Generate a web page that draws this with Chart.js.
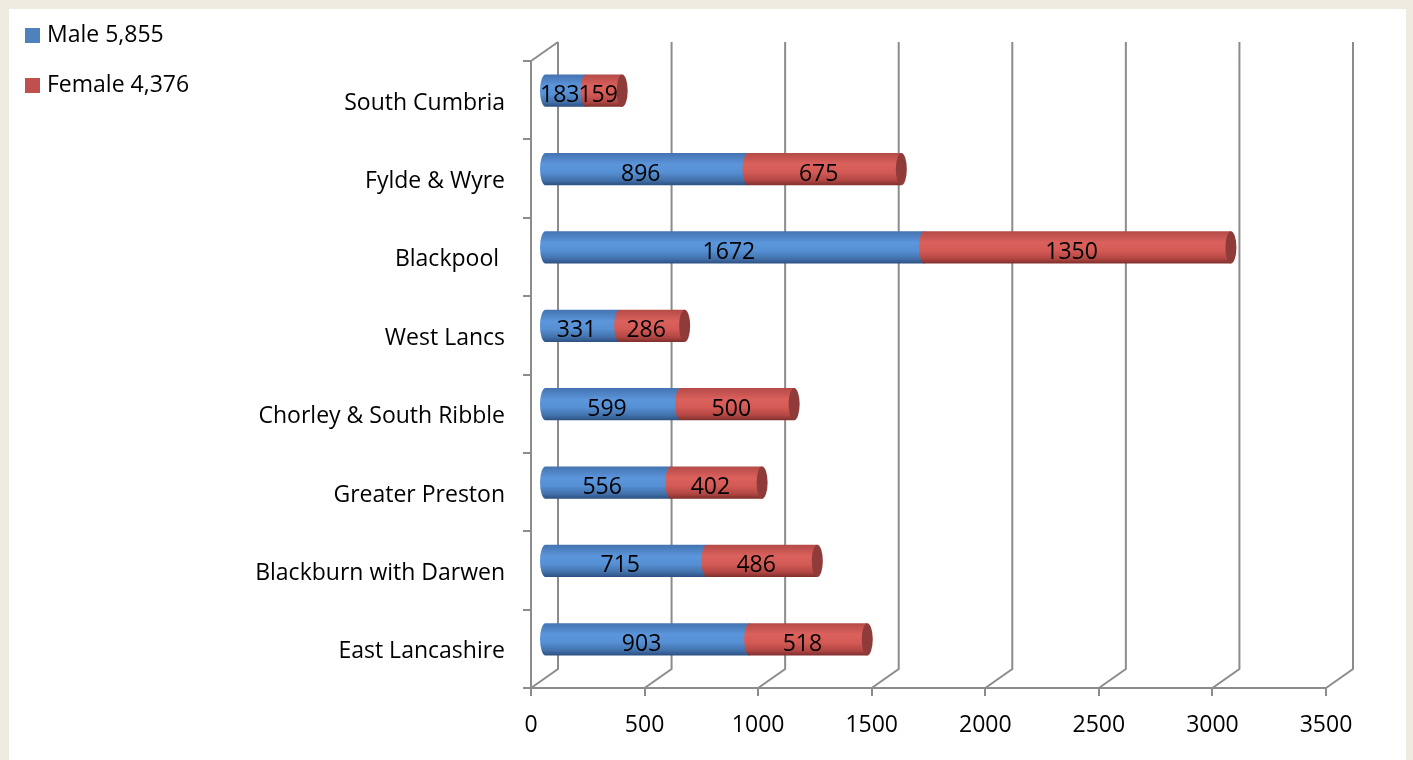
<!DOCTYPE html>
<html>
<head>
<meta charset="utf-8">
<script src="https://cdn.jsdelivr.net/npm/chart.js@4"></script>
<style>
    html, body { margin: 0; padding: 0; background: #EEEBE0; }
    #panel { position: absolute; left: 9px; top: 9px; width: 1397px; height: 751px; background: #fff; }
    #chart { position: absolute; left: 0; top: 0; }
</style>
</head>
<body>
<div id="panel"></div>
<canvas id="chart" width="1413" height="760"></canvas>
<script>
// Areas, top to bottom
const areas = ['South Cumbria', 'Fylde & Wyre', 'Blackpool ', 'West Lancs', 'Chorley & South Ribble',
               'Greater Preston', 'Blackburn with Darwen', 'East Lancashire'];
const male = [183, 896, 1672, 331, 599, 556, 715, 903];
const female = [159, 675, 1350, 286, 500, 402, 486, 518];
const xTicks = [0, 500, 1000, 1500, 2000, 2500, 3000, 3500];

const total = arr => arr.reduce((a, b) => a + b, 0).toLocaleString('en-GB');

// Depth of the fake 3D box (back wall offset)
const DX = 27, DY = -19;
const RX = 5.5; // half width of the cylinder end caps
const wallColor = '#8C8C8C';
const FONT = '23px "Open Sans", sans-serif';

// Gradient stops for each series, plus the colour of the end cap
const shading = [
    { flat: '#4F81BD', cap: '#3A6193',
      stops: [[0, '#4473B0'], [0.35, '#5B95DB'], [0.6, '#5690D4'], [0.85, '#4271AB'], [1, '#2D5082']] },
    { flat: '#C0504D', cap: '#8E3B39',
      stops: [[0, '#B44A47'], [0.35, '#DB615D'], [0.6, '#D45A56'], [0.85, '#B24643'], [1, '#7E2F2D']] }
];

Chart.defaults.font.family = '"Open Sans", sans-serif';
Chart.defaults.font.size = 23;
Chart.defaults.color = '#000';

// Back wall gridlines and floor diagonals
const walls = {
    id: 'walls',
    beforeDraw(chart) {
        const { ctx, chartArea: a, scales: { x } } = chart;
        ctx.save();
        ctx.strokeStyle = wallColor;
        ctx.lineWidth = 2;
        ctx.beginPath();
        x.ticks.forEach(t => {
            const px = x.getPixelForValue(t.value);
            ctx.moveTo(px, a.bottom);
            ctx.lineTo(px + DX, a.bottom + DY);
            ctx.lineTo(px + DX, a.top + DY);
        });
        ctx.moveTo(a.left, a.top);
        ctx.lineTo(a.left + DX, a.top + DY);
        ctx.stroke();
        ctx.restore();
    }
};

// Draws the bars as cylinders sitting half way into the box
const cylinders = {
    id: 'cylinders',
    beforeDatasetsDraw(chart) {
        const ctx = chart.ctx;
        const ox = DX / 2, oy = DY / 2;
        const last = chart.data.datasets.length - 1;
        const labels = [];

        chart.data.datasets.forEach((ds, di) => {
            const s = shading[di];
            chart.getDatasetMeta(di).data.forEach((bar, i) => {
                const { x, y, base, height } = bar.getProps(['x', 'y', 'base', 'height'], true);
                const x0 = base + ox, x1 = x + ox, yc = y + oy, ry = height / 2;

                const g = ctx.createLinearGradient(0, yc - ry, 0, yc + ry);
                s.stops.forEach(([p, c]) => g.addColorStop(p, c));

                ctx.save();
                ctx.fillStyle = g;
                ctx.beginPath();
                ctx.moveTo(x1, yc - ry);
                ctx.lineTo(x0, yc - ry);
                ctx.ellipse(x0, yc, RX, ry, 0, -Math.PI / 2, Math.PI / 2, true);
                ctx.lineTo(x1, yc + ry);
                ctx.closePath();
                ctx.fill();

                if (di === last) {
                    ctx.fillStyle = s.cap;
                    ctx.beginPath();
                    ctx.ellipse(x1, yc, RX, ry, 0, 0, Math.PI * 2);
                    ctx.fill();
                }
                ctx.restore();

                labels.push({ text: String(ds.data[i]), x: (x0 + x1) / 2 - 6, y: yc + 5 });
            });
        });

        // value labels on top of everything
        ctx.save();
        ctx.fillStyle = '#000';
        ctx.font = FONT;
        ctx.textAlign = 'center';
        ctx.textBaseline = 'middle';
        labels.forEach(l => ctx.fillText(l.text, l.x, l.y));
        ctx.restore();
        return false;
    }
};

// Legend in the top left corner
const cornerLegend = {
    id: 'cornerLegend',
    afterDraw(chart) {
        const ctx = chart.ctx;
        ctx.save();
        ctx.font = FONT;
        ctx.textAlign = 'left';
        ctx.textBaseline = 'middle';
        chart.data.datasets.forEach((ds, i) => {
            const y = 35 + i * 50;
            ctx.fillStyle = shading[i].flat;
            ctx.fillRect(25, y - 7, 15, 15);
            ctx.fillStyle = '#000';
            ctx.fillText(ds.label, 47, y);
        });
        ctx.restore();
    }
};

const ctx = document.getElementById('chart').getContext('2d');

new Chart(ctx, {
    type: 'bar',
    data: {
        labels: areas,
        datasets: [
            { label: 'Male ' + total(male), data: male, backgroundColor: shading[0].flat },
            { label: 'Female ' + total(female), data: female, backgroundColor: shading[1].flat }
        ]
    },
    options: {
        indexAxis: 'y',
        responsive: false,
        animation: false,
        layout: { padding: { top: 61, right: 87, left: 0, bottom: 0 } },
        datasets: { bar: { barPercentage: 0.5, categoryPercentage: 0.82 } },
        plugins: {
            legend: { display: false },
            tooltip: { enabled: false }
        },
        scales: {
            x: {
                stacked: true,
                min: 0,
                max: 3500,
                afterBuildTicks: scale => { scale.ticks = xTicks.map(v => ({ value: v })); },
                afterFit: scale => { scale.height = 72; },
                grid: { drawOnChartArea: false, tickLength: 8, color: wallColor, lineWidth: 2 },
                border: { color: wallColor, width: 2 },
                ticks: { padding: 16, maxRotation: 0, callback: v => String(v) }
            },
            y: {
                stacked: true,
                afterFit: scale => { scale.width = 531; },
                grid: { drawOnChartArea: false, tickLength: 8, color: wallColor, lineWidth: 2 },
                border: { color: wallColor, width: 2 },
                ticks: { padding: 18, labelOffset: 3 }
            }
        }
    },
    plugins: [walls, cylinders, cornerLegend]
});
</script>
</body>
</html>
